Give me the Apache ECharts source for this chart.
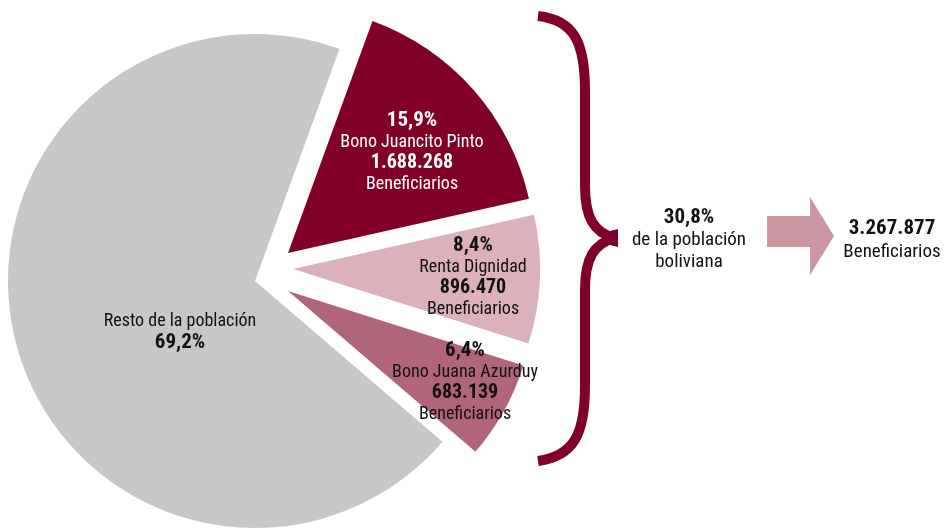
<!DOCTYPE html>
<html>
<head>
<meta charset="utf-8">
<script src="https://cdn.jsdelivr.net/npm/echarts@6/dist/echarts.min.js"></script>
<style>
  html, body { margin: 0; padding: 0; background: #fff; }
  #chart { width: 946px; height: 529px; }
</style>
</head>
<body>
<div id="chart"></div>
<script>
// datos
var categorias = ['Bono Juancito Pinto', 'Renta Dignidad', 'Bono Juana Azurduy', 'Resto de la población']
var porcentajes = [15.9, 8.4, 6.4, 69.2]
var beneficiarios = [1688268, 896470, 683139]
var porcentajeTotal = '30,8%'
var textoTotal = ['de la población', 'boliviana']

var colores = ['#800026', '#dbb2bb', '#b06579', '#c6c7c9']
var colorTexto = ['#ffffff', '#111111', '#111111', '#111111']
// cada porción separada tiene su propio centro
var centros = [[288, 253], [293, 269], [288, 291], [255, 281]]
var posEtiquetas = [[412, 152], [473, 277], [465, 382], [180, 332]]

var FONT = '"Liberation Sans Narrow", "Arial Narrow", "Roboto Condensed", sans-serif'
var ROJO = '#800026'

function pct(v) {
  return v.toFixed(1).replace('.', ',') + '%'
}
function miles(n) {
  return String(n).replace(/\B(?=(\d{3})+(?!\d))/g, '.')
}

var totalBenef = beneficiarios.reduce(function(a, b) { return a + b }, 0)

var chart = echarts.init(document.getElementById('chart'), null, { renderer: 'canvas' })

var series = categorias.map(function(nombre, k) {
  var color = colorTexto[k]
  return {
    type: 'pie',
    silent: true,
    center: centros[k],
    radius: [0, 247],
    startAngle: 70,
    clockwise: true,
    avoidLabelOverlap: false,
    emphasis: { disabled: true },
    labelLayout: { x: posEtiquetas[k][0], y: posEtiquetas[k][1] },
    data: categorias.map(function(n, i) {
      return {
        name: n,
        value: porcentajes[i],
        itemStyle: { color: i === k ? colores[i] : 'rgba(0,0,0,0)' },
        label: { show: i === k }
      }
    }),
    label: {
      position: 'inside',
      formatter: function(p) {
        var i = p.dataIndex
        if (i === 3) {
          return '{n|' + p.name + '}\n{p|' + pct(porcentajes[i]) + '}'
        }
        return '{p|' + pct(porcentajes[i]) + '}\n{n|' + p.name + '}\n{v|' + miles(beneficiarios[i]) + '}\n{n|Beneficiarios}'
      },
      rich: {
        p: { fontFamily: FONT, fontSize: 21, fontWeight: 'bold', color: color, lineHeight: 22 },
        n: { fontFamily: FONT, fontSize: 18, color: color, lineHeight: 21 },
        v: { fontFamily: FONT, fontSize: 20, fontWeight: 'bold', color: color, lineHeight: 21 }
      }
    },
    labelLine: { show: false }
  }
})

function curva(x1, y1, c1x, c1y, c2x, c2y, x2, y2) {
  return {
    type: 'bezierCurve',
    shape: { x1: x1, y1: y1, cpx1: c1x, cpy1: c1y, cpx2: c2x, cpy2: c2y, x2: x2, y2: y2 },
    style: { stroke: ROJO, lineWidth: 10, fill: null, lineCap: 'butt' }
  }
}
function recta(x1, y1, x2, y2) {
  return {
    type: 'line',
    shape: { x1: x1, y1: y1, x2: x2, y2: y2 },
    style: { stroke: ROJO, lineWidth: 10, lineCap: 'butt' }
  }
}

var llave = [
  curva(538, 16, 574, 20, 585, 42, 585, 91),
  recta(585, 90, 585, 187),
  curva(585, 186, 585, 218, 594, 232, 614, 238),
  curva(614, 238, 594, 244, 585, 258, 585, 290),
  recta(585, 289, 585, 387),
  curva(585, 386, 585, 434, 574, 456, 538, 461),
  {
    type: 'polygon',
    shape: { points: [[606, 232], [618, 229], [618, 247], [606, 244]] },
    style: { fill: ROJO }
  }
]

var option = {
  backgroundColor: '#ffffff',
  animation: false,
  series: series,
  graphic: llave.concat([
    {
      type: 'polygon',
      shape: { points: [[767, 216], [810, 216], [810, 197], [834, 236], [810, 275], [810, 247], [767, 247]] },
      style: { fill: '#cc97a3' }
    },
    {
      type: 'text',
      style: { text: porcentajeTotal, x: 689, y: 218, textAlign: 'center', textVerticalAlign: 'middle', font: 'bold 21px ' + FONT, fill: '#111' }
    },
    {
      type: 'text',
      style: { text: textoTotal[0], x: 689, y: 240, textAlign: 'center', textVerticalAlign: 'middle', font: '19px ' + FONT, fill: '#111' }
    },
    {
      type: 'text',
      style: { text: textoTotal[1], x: 689, y: 262, textAlign: 'center', textVerticalAlign: 'middle', font: '19px ' + FONT, fill: '#111' }
    },
    {
      type: 'text',
      style: { text: miles(totalBenef), x: 892, y: 229, textAlign: 'center', textVerticalAlign: 'middle', font: 'bold 21px ' + FONT, fill: '#111' }
    },
    {
      type: 'text',
      style: { text: 'Beneficiarios', x: 892, y: 252, textAlign: 'center', textVerticalAlign: 'middle', font: '19px ' + FONT, fill: '#111' }
    }
  ])
}

chart.setOption(option)
</script>
</body>
</html>
